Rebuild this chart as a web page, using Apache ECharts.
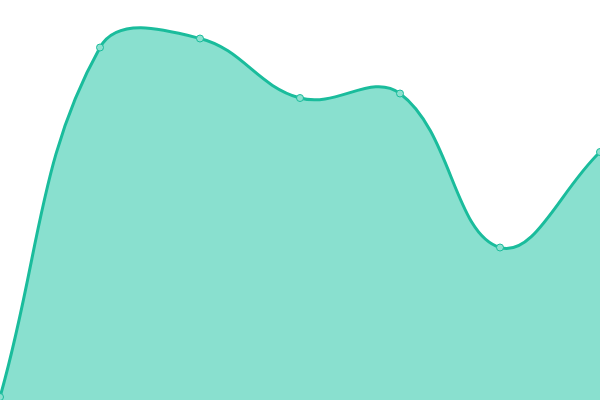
<!DOCTYPE html>
<html><head><meta charset="utf-8">
<script src="https://cdn.jsdelivr.net/npm/echarts@6/dist/echarts.min.js"></script>
<style>html,body{margin:0;padding:0;background:#fff}#c{width:600px;height:400px}</style>
</head><body><div id="c"></div>
<script>
const categories = ['A','B','C','D','E','F','G'];
const values = [3, 352.5, 361.5, 302, 306.5, 152.5, 248];
const tension = 0.4;
const chart = echarts.init(document.getElementById('c'));

function splinePath(pts){
  const n = pts.length;
  const cps = pts.map((p,i)=>{
    const prev = pts[Math.max(0,i-1)], next = pts[Math.min(n-1,i+1)];
    const d01 = Math.hypot(p[0]-prev[0], p[1]-prev[1]);
    const d12 = Math.hypot(next[0]-p[0], next[1]-p[1]);
    let s01 = d01/(d01+d12), s12 = d12/(d01+d12);
    if (isNaN(s01)) s01 = 0; if (isNaN(s12)) s12 = 0;
    const fa = tension*s01, fb = tension*s12;
    return {
      px: p[0]-fa*(next[0]-prev[0]), py: p[1]-fa*(next[1]-prev[1]),
      nx: p[0]+fb*(next[0]-prev[0]), ny: p[1]+fb*(next[1]-prev[1])
    };
  });
  let d = 'M'+pts[0][0]+' '+pts[0][1];
  for (let i=1;i<n;i++){
    d += ' C'+cps[i-1].nx+' '+cps[i-1].ny+' '+cps[i].px+' '+cps[i].py+' '+pts[i][0]+' '+pts[i][1];
  }
  return d;
}

chart.setOption({
  animation:false,
  grid:{left:0,right:0,top:0,bottom:0},
  xAxis:{type:'category',data:categories,boundaryGap:false,show:false},
  yAxis:{type:'value',min:0,max:400,show:false},
  series:[{
    type:'custom',
    data: values.map((v,i)=>[i,v]),
    clip:false,
    renderItem:function(params, api){
      if (params.dataIndex !== 0) return null;
      const pts = values.map((v,i)=>api.coord([i,v]));
      const base = api.coord([0,0])[1];
      const line = splinePath(pts);
      const area = line + ' L'+pts[pts.length-1][0]+' '+base+' L'+pts[0][0]+' '+base+' Z';
      return {type:'group',children:[
        {type:'path',shape:{pathData:area},style:{fill:'#89e0cf',stroke:null}},
        {type:'path',shape:{pathData:line},style:{fill:null,stroke:'#1abc9c',lineWidth:3}}
      ]};
    }
  },{
    type:'scatter',data:values,symbol:'circle',symbolSize:7,z:5,
    itemStyle:{color:'#8de0cf',borderColor:'#1abc9c',borderWidth:1,opacity:1}
  }]
});
</script></body></html>
